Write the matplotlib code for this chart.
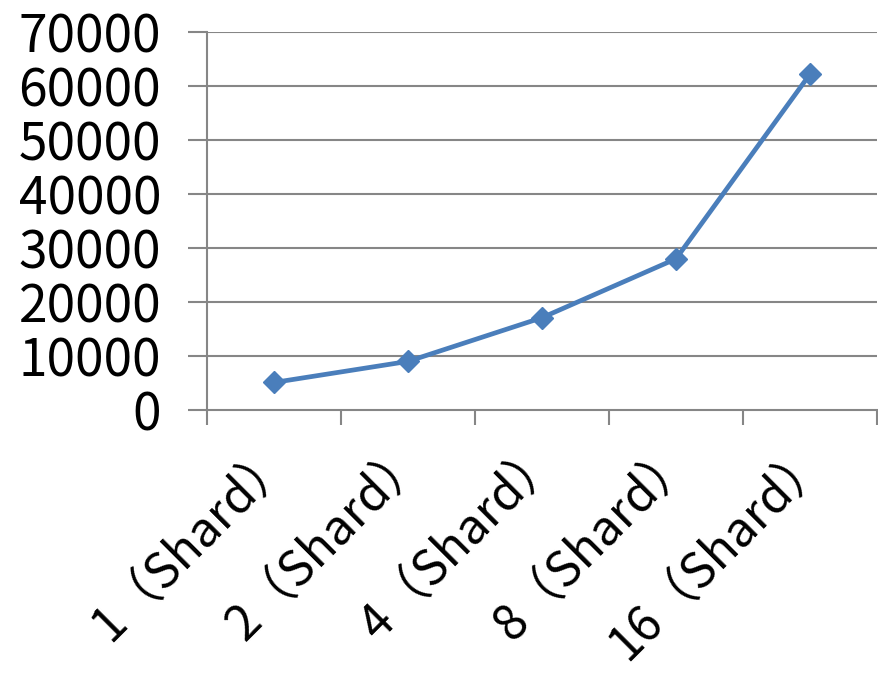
import matplotlib
matplotlib.use("Agg")
import matplotlib.pyplot as plt
import matplotlib.transforms as mtransforms
import numpy as np

categories = ["1（Shard）", "2（Shard）", "4（Shard）", "8（Shard）", "16（Shard）"]
values = [5100, 9000, 17100, 28000, 62200]
yticks = [0, 10000, 20000, 30000, 40000, 50000, 60000, 70000]

plt.rcParams['font.family'] = ['Noto Sans CJK SC', 'DejaVu Sans']

fig = plt.figure(figsize=(8.79, 6.79), dpi=100)
ax = fig.add_axes([207/879, 1 - 410/679, 670/879, 378/679])

grid_c = '#868686'
x = np.arange(1, len(categories) + 1)
ax.plot(x, values, color='#4a7ebb', lw=3.4, marker='D', ms=11,
        markerfacecolor='#4a7ebb', markeredgecolor='#4a7ebb', zorder=3,
        clip_on=False)

ax.set_xlim(0.5, len(categories) + 0.5)
ax.set_ylim(0, 70000)
ax.set_yticks(yticks)
ax.set_yticklabels([str(v) for v in yticks])
for y in yticks[1:]:
    ax.axhline(y, color=grid_c, lw=1.5, zorder=1)

ax.set_xticks(x)
ax.set_xticklabels(categories, rotation=45, ha='right', va='top')
ax.set_xticks(np.arange(0.5, len(categories) + 1, 1), minor=True)

for s in ['top', 'right']:
    ax.spines[s].set_visible(False)
for s in ['left', 'bottom']:
    ax.spines[s].set_color(grid_c)
    ax.spines[s].set_linewidth(1.5)

ax.tick_params(axis='y', length=14, width=1.5, color=grid_c, pad=19, labelsize=37)
ax.tick_params(axis='x', which='major', length=0, pad=16, labelsize=35)
ax.tick_params(axis='x', which='minor', length=11, width=1.5, color=grid_c)

off = mtransforms.ScaledTranslation(28/100, 0, fig.dpi_scale_trans)
for lbl in ax.get_xticklabels():
    lbl.set_transform(lbl.get_transform() + off)

fig.savefig('out.png', dpi=100)
